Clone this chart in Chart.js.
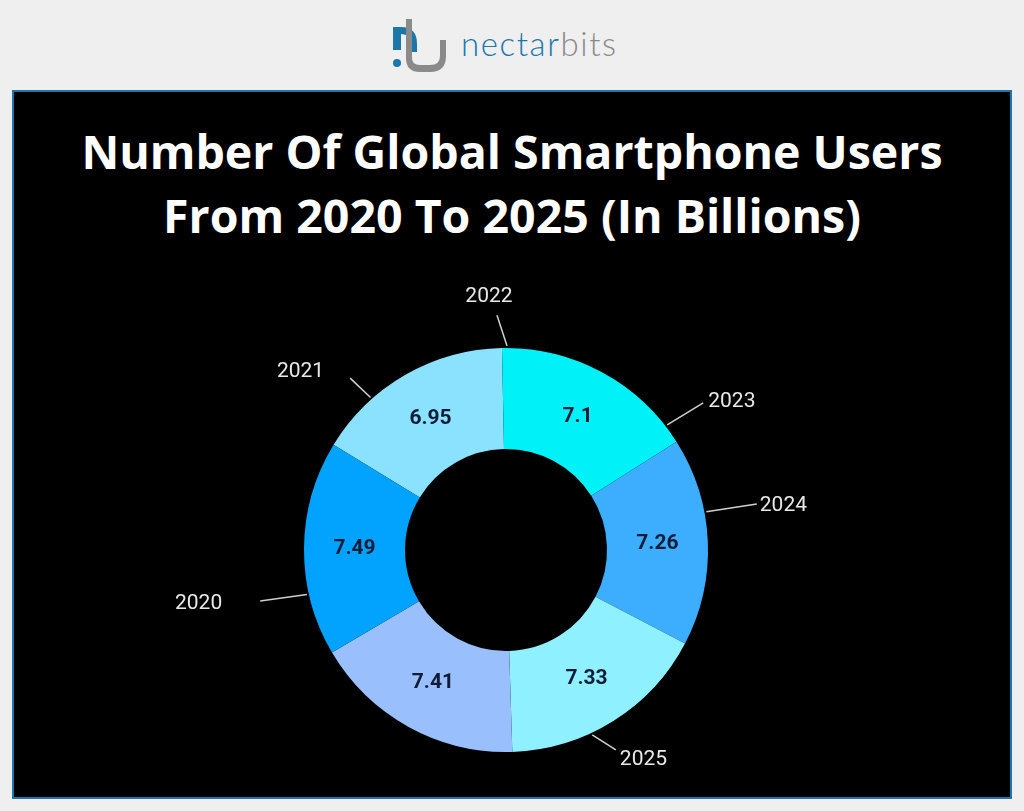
<!DOCTYPE html>
<html>
<head>
<meta charset="utf-8">
<script src="https://cdn.jsdelivr.net/npm/chart.js@4.4.1/dist/chart.umd.min.js"></script>
<style>
  html, body { margin: 0; padding: 0; width: 1024px; height: 811px; overflow: hidden; background: #efefef; font-family: Roboto, sans-serif; }
  #logo { position: absolute; left: 0; top: 0; width: 1024px; height: 90px; }
  #brand { position: absolute; left: 461px; top: 23px; font-family: Lato, sans-serif; font-weight: 300; font-size: 33px; line-height: 40px; letter-spacing: 1.6px; }
  #brand .a { color: #1c76aa; }
  #brand .b { color: #8a8a8a; }
  #panel { position: absolute; left: 12px; top: 90px; width: 996px; height: 705px; background: #000; border: 2px solid #1a78ad; }
  #title { position: absolute; left: 0; top: 27px; width: 996px; text-align: center; color: #fff; font-family: "Open Sans", sans-serif; font-weight: 700; font-size: 46.5px; line-height: 64px; }
  #wrap { position: absolute; left: 0; top: 168px; width: 996px; height: 537px; }
</style>
</head>
<body>
<svg id="logo" viewBox="0 0 1024 90">
  <path d="M393,27 L401,27 Q417,27 417,44 L417,52 L411,52 L411,44 Q411,34 401,34 L401,50 L393,50 Z" fill="#1c76aa"/>
  <circle cx="397" cy="63" r="4" fill="#1c76aa"/>
  <path d="M406,19 L412,19 L412,58 Q412,65 420,65 L430,65 Q440,65 440,56 L440,40 L446,40 L446,56 Q446,72 430,72 L420,72 Q406,72 406,58 Z" fill="#8a8a8a"/>
</svg>
<div id="brand"><span class="a">nectar</span><span class="b">bits</span></div>
<div id="panel">
  <div id="title">Number Of Global Smartphone Users<br>From 2020 To 2025 (In Billions)</div>
  <div id="wrap"><canvas id="usersChart" width="996" height="537"></canvas></div>
</div>
<script>
// slices in clockwise order, starting from the upper-left one
let years = ["2021", "2022", "2023", "2024", "2025", "2020"];
let users = [6.95, 7.1, 7.26, 7.33, 7.41, 7.49];
let sliceColors = ["#8ae2ff", "#00f2f8", "#3daefe", "#8ff0ff", "#9abffd", "#01a3fe"];

// where the year callouts sit around the ring (degrees from top, clockwise)
const calloutSpots = [
  { from: -41.6, to: -42.2, r: 232, dx: -26, dy: -6, align: "right" },
  { from: 0.3, to: -2.2, r: 235, dx: -8, dy: -18, align: "center" },
  { from: 52.2, to: 53.3, r: 246, dx: 5, dy: -1, align: "left" },
  { from: 79.2, to: 79.6, r: 255, dx: 3, dy: 2, align: "left" },
  { from: 155, to: 151.2, r: 228, dx: 4, dy: 10, align: "left" },
  { from: 257.4, to: 258.3, r: 251, dx: -38, dy: 3, align: "right" },
];

const labelPlugin = {
  id: "sliceLabels",
  afterDatasetsDraw(chart, args, opts) {
    const c = chart.ctx;
    const meta = chart.getDatasetMeta(0);
    const first = meta.data[0];
    const cx = first.x, cy = first.y, R = first.outerRadius;
    c.save();

    // values inside slices
    c.font = "bold 21px Roboto";
    c.fillStyle = "#101c38";
    c.textAlign = "center";
    c.textBaseline = "middle";
    meta.data.forEach(function (arc, i) {
      const p = arc.tooltipPosition();
      c.fillText(String(users[i]), p.x, p.y);
    });

    // year callouts with leader lines
    c.strokeStyle = "#cfcfcf";
    c.lineWidth = 1.5;
    c.font = "21px Roboto";
    c.fillStyle = "#e8e8e8";
    opts.spots.forEach(function (s, i) {
      const a = (s.from - 90) * Math.PI / 180;
      const b = (s.to - 90) * Math.PI / 180;
      const x1 = cx + Math.cos(a) * (R + 2), y1 = cy + Math.sin(a) * (R + 2);
      const x2 = cx + Math.cos(b) * s.r, y2 = cy + Math.sin(b) * s.r;
      c.beginPath();
      c.moveTo(x1, y1);
      c.lineTo(x2, y2);
      c.stroke();
      c.textAlign = s.align;
      c.fillText(years[i], x2 + s.dx, y2 + s.dy);
    });
    c.restore();
  },
};

const ctx = document.getElementById("usersChart").getContext("2d");
const usersChart = new Chart(ctx, {
  type: "doughnut",
  data: {
    labels: years,
    datasets: [
      {
        label: "Smartphone users (billions)",
        data: users,
        backgroundColor: sliceColors,
        borderWidth: 0,
      },
    ],
  },
  options: {
    responsive: false,
    animation: false,
    rotation: -58.6,
    cutout: "50%",
    layout: { padding: { left: 290, right: 302, top: 88, bottom: 45 } },
    plugins: {
      legend: { display: false },
      tooltip: { enabled: false },
      sliceLabels: { spots: calloutSpots },
    },
  },
  plugins: [labelPlugin],
});
</script>
</body>
</html>
